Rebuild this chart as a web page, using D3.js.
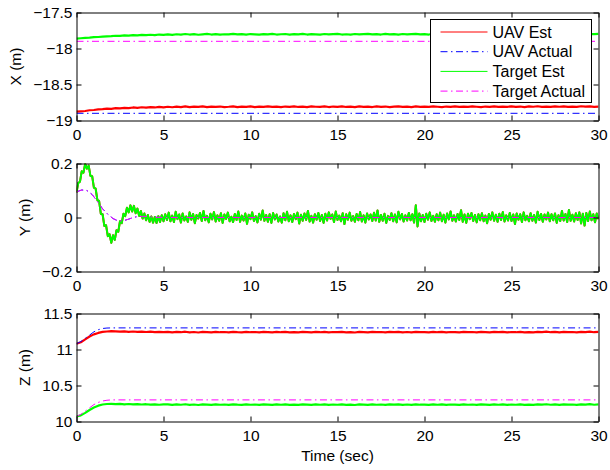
<!DOCTYPE html>
<html>
<head>
<meta charset="utf-8">
<script src="https://cdn.jsdelivr.net/npm/d3@7"></script>
<style>
  body { margin: 0; background: #fff; }
  svg text { font-family: "Liberation Sans", Arial, sans-serif; font-size: 15.5px; fill: #000; }
</style>
</head>
<body>
<div id="chart"></div>
<script>
"use strict";

// sample steps (sec)
var dtCoarse = 0.25,
    dtFine = 0.1;

var timeTicks = [0, 5, 10, 15, 20, 25, 30];
var seriesNames = ["UAV Est", "UAV Actual", "Target Est", "Target Actual"];

// ---- X (m), 0.25 s samples
var xUavEst = [
  -18.878, -18.872, -18.868, -18.858, -18.854, -18.845, -18.842, -18.836, -18.838, -18.829,
  -18.831, -18.824, -18.827, -18.819, -18.824, -18.816, -18.821, -18.814, -18.819, -18.812,
  -18.818,
  -18.809, -18.816, -18.807, -18.813, -18.805, -18.814, -18.808, -18.811, -18.804, -18.815,
  -18.807, -18.812, -18.806, -18.813, -18.809, -18.803, -18.814, -18.808, -18.81, -18.805,
  -18.813, -18.807, -18.811, -18.804, -18.812, -18.808, -18.815, -18.806, -18.81, -18.803,
  -18.812, -18.807, -18.814, -18.805, -18.809, -18.811, -18.804, -18.813, -18.806, -18.81,
  -18.803, -18.812, -18.808, -18.814, -18.805, -18.81, -18.807, -18.813, -18.804, -18.811,
  -18.806, -18.814, -18.808, -18.803, -18.811, -18.807, -18.813, -18.805, -18.81, -18.806,
  -18.812, -18.804, -18.809, -18.813, -18.806, -18.811, -18.803, -18.81, -18.807, -18.812,
  -18.805, -18.809, -18.814, -18.806, -18.81, -18.804, -18.812, -18.807, -18.81, -18.803,
  -18.811, -18.806, -18.813, -18.805, -18.809, -18.802, -18.81, -18.806, -18.812, -18.804,
  -18.809, -18.803, -18.811, -18.806, -18.81, -18.802, -18.808, -18.805, -18.81, -18.806
];
var xTgtEst = [
  -17.862, -17.858, -17.853, -17.849, -17.842, -17.84, -17.834, -17.831, -17.828, -17.823,
  -17.825, -17.818, -17.821, -17.815, -17.818, -17.812, -17.815, -17.809, -17.813, -17.806,
  -17.811,
  -17.804, -17.81, -17.802, -17.807, -17.799, -17.806, -17.801, -17.809, -17.803, -17.798,
  -17.806, -17.8, -17.808, -17.802, -17.805, -17.797, -17.804, -17.801, -17.807, -17.799,
  -17.803, -17.808, -17.8, -17.805, -17.798, -17.806, -17.802, -17.799, -17.807, -17.801,
  -17.804, -17.797, -17.806, -17.8, -17.803, -17.808, -17.799, -17.805, -17.801, -17.798,
  -17.806, -17.802, -17.807, -17.799, -17.804, -17.8, -17.797, -17.805, -17.801, -17.806,
  -17.798, -17.803, -17.8, -17.807, -17.799, -17.804, -17.801, -17.797, -17.805, -17.8,
  -17.806, -17.798, -17.803, -17.799, -17.805, -17.801, -17.807, -17.798, -17.802, -17.804,
  -17.799, -17.806, -17.8, -17.803, -17.797, -17.805, -17.801, -17.806, -17.798, -17.802,
  -17.804, -17.799, -17.806, -17.8, -17.797, -17.803, -17.801, -17.805, -17.798, -17.804,
  -17.8, -17.806, -17.799, -17.803, -17.797, -17.802, -17.805, -17.799, -17.801, -17.798
];
var xActTime = [0, 30];
var xUavAct = [-18.9, -18.9];
var xTgtAct = [-17.9, -17.9];

// ---- Y (m), 0.1 s samples (UAV and target estimates coincide)
var yEst = [
  0.092, 0.128, 0.133, 0.171, 0.166, 0.199, 0.181, 0.192, 0.154, 0.153,
  0.111, 0.107, 0.064, 0.061, 0.013, 0.012, -0.031, -0.029, -0.069, -0.062,
  -0.094, -0.066, -0.083, -0.047, -0.053, -0.014, -0.021, 0.014, 0.005, 0.036,
  0.019, 0.045, 0.022, 0.043, 0.016, 0.033, 0.006, 0.024, -0.004, 0.015,
  -0.01, 0.009, -0.016, 0.004, -0.019, 0.002, -0.02, 0.005, -0.017, 0.008,
  -0.014,
  0.012, -0.009, 0.018, -0.014, 0.007, -0.017, 0.021, -0.006, 0.011, -0.019,
  0.015, -0.011, 0.004, -0.016, 0.019, -0.008, 0.013, -0.021, 0.009, -0.004,
  0.017, -0.013, 0.024, -0.01, 0.006, -0.018, 0.014, -0.007, 0.02, -0.015,
  0.008, -0.012, 0.016, -0.02, 0.011, -0.005, 0.018, -0.014, 0.003, -0.017,
  0.013, -0.009, 0.022, -0.016, 0.007, -0.011, 0.015, -0.023, 0.01, -0.006,
  0.019, -0.013, 0.005, -0.018, 0.014, -0.008, 0.026, -0.012, 0.009, -0.016,
  0.012, -0.02, 0.017, -0.007, 0.011, -0.015, 0.004, -0.019, 0.016, -0.01,
  0.021, -0.014, 0.008, -0.017, 0.013, -0.006, 0.018, -0.022, 0.01, -0.012,
  0.015, -0.009, 0.024, -0.015, 0.006, -0.019, 0.012, -0.008, 0.017, -0.013,
  0.009, -0.02, 0.014, -0.011, 0.019, -0.005, 0.011, -0.017, 0.022, -0.009,
  0.007, -0.014, 0.016, -0.024, 0.012, -0.008, 0.018, -0.012, 0.005, -0.016,
  0.013, -0.01, 0.02, -0.015, 0.008, -0.019, 0.015, -0.007, 0.011, -0.013,
  0.018, -0.011, 0.026, -0.016, 0.009, -0.012, 0.014, -0.02, 0.006, -0.009,
  0.016, -0.014, 0.011, -0.018, 0.021, -0.007, 0.013, -0.015, 0.008, -0.011,
  0.017, -0.01, 0.012, -0.019, 0.045, -0.033, 0.015, -0.014, 0.009, -0.017,
  0.014, -0.008, 0.019, -0.013, 0.006, -0.016, 0.012, -0.01, 0.018, -0.014,
  0.01, -0.019, 0.015, -0.007, 0.022, -0.012, 0.008, -0.015, 0.013, -0.009,
  0.027, -0.016, 0.011, -0.02, 0.014, -0.006, 0.017, -0.013, 0.009, -0.018,
  0.012, -0.01, 0.016, -0.014, 0.007, -0.021, 0.013, -0.008, 0.019, -0.012,
  0.01, -0.016, 0.014, -0.009, 0.02, -0.015, 0.008, -0.011, 0.017, -0.013,
  0.011, -0.024, 0.015, -0.008, 0.012, -0.017, 0.019, -0.01, 0.006, -0.014,
  0.016, -0.012, 0.009, -0.019, 0.021, -0.009, 0.013, -0.016, 0.011, -0.007,
  0.018, -0.014, 0.012, -0.01, 0.015, -0.02, 0.008, -0.013, 0.024, -0.011,
  0.013, -0.017, 0.028, -0.012, 0.01, -0.015, 0.016, -0.009, 0.019, -0.022,
  0.014, -0.03, 0.017, -0.013, 0.022, -0.01, 0.012, -0.018, 0.015, -0.006
];
var yActTime = [0, 0.3, 0.6, 0.9, 1.2, 1.5, 1.8, 2.1, 2.4, 2.7, 3.0, 3.3, 3.6, 4.0, 4.5, 5, 30];
var yAct = [0.095, 0.102, 0.1, 0.085, 0.06, 0.032, 0.012, -0.004, -0.013, -0.012, -0.006, 0.001, 0.004, 0.004, 0.001, 0, 0];

// ---- Z (m), 0.25 s samples
var zUavEst = [
  11.08, 11.1, 11.14, 11.18, 11.21, 11.23, 11.245, 11.25, 11.255, 11.252,
  11.249, 11.251, 11.246, 11.25, 11.244, 11.248, 11.243, 11.247, 11.241, 11.246,
  11.242,
  11.245, 11.238, 11.244, 11.24, 11.247, 11.239, 11.243, 11.236, 11.245, 11.241,
  11.238, 11.246, 11.24, 11.243, 11.237, 11.245, 11.241, 11.239, 11.246, 11.24,
  11.243, 11.237, 11.244, 11.241, 11.238, 11.246, 11.24, 11.244, 11.238, 11.242,
  11.239, 11.245, 11.241, 11.237, 11.244, 11.24, 11.246, 11.238, 11.243, 11.24,
  11.245, 11.239, 11.242, 11.236, 11.244, 11.241, 11.238, 11.245, 11.24, 11.243,
  11.237, 11.244, 11.241, 11.246, 11.239, 11.243, 11.238, 11.245, 11.24, 11.242,
  11.239, 11.246, 11.24, 11.244, 11.237, 11.243, 11.241, 11.238, 11.245, 11.24,
  11.243, 11.239, 11.246, 11.241, 11.237, 11.244, 11.24, 11.245, 11.238, 11.243,
  11.24, 11.246, 11.239, 11.242, 11.238, 11.245, 11.241, 11.247, 11.24, 11.244,
  11.239, 11.246, 11.241, 11.243, 11.238, 11.245, 11.242, 11.248, 11.24, 11.244
];
var zTgtEst = [
  10.07, 10.085, 10.12, 10.16, 10.195, 10.22, 10.236, 10.243, 10.246, 10.242,
  10.245, 10.239, 10.243, 10.237, 10.242, 10.236, 10.24, 10.234, 10.239, 10.233,
  10.238,
  10.238, 10.231, 10.237, 10.233, 10.24, 10.232, 10.236, 10.229, 10.238, 10.234,
  10.231, 10.239, 10.233, 10.236, 10.23, 10.238, 10.234, 10.232, 10.239, 10.233,
  10.236, 10.23, 10.237, 10.234, 10.231, 10.239, 10.233, 10.237, 10.231, 10.235,
  10.232, 10.238, 10.234, 10.23, 10.237, 10.233, 10.239, 10.231, 10.236, 10.233,
  10.238, 10.232, 10.235, 10.229, 10.237, 10.234, 10.231, 10.238, 10.233, 10.236,
  10.23, 10.237, 10.234, 10.239, 10.232, 10.236, 10.231, 10.238, 10.233, 10.235,
  10.232, 10.239, 10.233, 10.237, 10.23, 10.236, 10.234, 10.231, 10.238, 10.233,
  10.236, 10.232, 10.239, 10.234, 10.23, 10.237, 10.233, 10.238, 10.231, 10.236,
  10.233, 10.239, 10.232, 10.235, 10.231, 10.238, 10.234, 10.24, 10.233, 10.237,
  10.232, 10.239, 10.234, 10.236, 10.231, 10.238, 10.235, 10.241, 10.233, 10.237
];
var zActTime = [0, 0.25, 0.5, 0.75, 1, 1.25, 1.5, 1.75, 2, 30];
var zUavAct = [11.08, 11.11, 11.155, 11.2, 11.245, 11.275, 11.292, 11.298, 11.3, 11.3];
var zTgtAct = [10.07, 10.1, 10.145, 10.19, 10.235, 10.265, 10.285, 10.295, 10.3, 10.3];

var xTicks = [-19, -18.5, -18, -17.5],
    yTicks = [-0.2, 0, 0.2],
    zTicks = [10, 10.5, 11, 11.5];

// ---- layout
var w = 610, h = 470,
    left = 76.5, right = 598.5;
var colors = ["#ff0000", "#0000ff", "#00ff00", "#ff00ff"],
    dashes = [null, "7,3.5,1.5,3.5", null, "7,3.5,1.5,3.5"];

var svg = d3.select("#chart").append("svg")
  .attr("width", w)
  .attr("height", h);

var x = d3.scaleLinear().domain([0, 30]).range([left, right]);
var fmt = function (d) { return d3.format("")(d).replace("-", "\u2212"); };

function timesFor(vals, dt) {
  return vals.map(function (d, i) { return i * dt; });
}

function panel(id, top, bottom, domain, ticks, label, labelX, series) {
  var y = d3.scaleLinear().domain(domain).range([bottom, top]);
  var g = svg.append("g");

  g.append("clipPath").attr("id", "clip" + id)
    .append("rect")
      .attr("x", left).attr("y", top)
      .attr("width", right - left).attr("height", bottom - top);

  var line = d3.line()
    .x(function (d) { return x(d[0]); })
    .y(function (d) { return y(d[1]); });

  var lines = g.append("g").attr("clip-path", "url(#clip" + id + ")");
  series.forEach(function (s) {
    var pts = s.v.map(function (v, i) { return [s.t[i], v]; });
    lines.append("path")
      .attr("d", line(pts))
      .attr("fill", "none")
      .attr("stroke", colors[s.k])
      .attr("stroke-width", s.sw || 1)
      .attr("stroke-linejoin", "round")
      .attr("stroke-dasharray", dashes[s.k]);
  });

  // axes, ticks pointing inward on all four sides
  g.append("g").attr("transform", "translate(" + left + ",0)")
    .call(d3.axisLeft(y).tickValues(ticks).tickFormat(fmt).tickSizeInner(-5).tickSizeOuter(0).tickPadding(4));
  g.append("g").attr("transform", "translate(" + right + ",0)")
    .call(d3.axisRight(y).tickValues(ticks).tickFormat("").tickSizeInner(-5).tickSizeOuter(0));
  g.append("g").attr("transform", "translate(0," + bottom + ")")
    .call(d3.axisBottom(x).tickValues(timeTicks).tickFormat(d3.format("d")).tickSizeInner(-5).tickSizeOuter(0).tickPadding(8));
  g.append("g").attr("transform", "translate(0," + top + ")")
    .call(d3.axisTop(x).tickValues(timeTicks).tickFormat("").tickSizeInner(-5).tickSizeOuter(0));

  g.selectAll(".domain").attr("stroke", "#000");
  g.selectAll(".tick line").attr("stroke", "#000");
  g.selectAll(".tick text").style("font-size", "15.5px").style("font-family", "'Liberation Sans', Arial, sans-serif");

  g.append("text")
    .attr("transform", "translate(" + labelX + "," + ((top + bottom) / 2) + ") rotate(-90)")
    .attr("text-anchor", "middle")
    .text(label);

  return g;
}

var tC = timesFor(xUavEst, dtCoarse),
    tF = timesFor(yEst, dtFine);

var p1 = panel(1, 12.5, 120.5, [-19, -17.5], xTicks, "X (m)", 21, [
  { k: 0, t: tC, v: xUavEst, sw: 2.2 },
  { k: 1, t: xActTime, v: xUavAct },
  { k: 2, t: tC, v: xTgtEst, sw: 2.2 },
  { k: 3, t: xActTime, v: xTgtAct }
]);

panel(2, 163.5, 271.5, [-0.2, 0.2], yTicks, "Y (m)", 29.5, [
  { k: 0, t: tF, v: yEst, sw: 2 },
  { k: 1, t: yActTime, v: yAct },
  { k: 2, t: tF, v: yEst, sw: 2 },
  { k: 3, t: yActTime, v: yAct }
]);

panel(3, 313.5, 421.5, [10, 11.5], zTicks, "Z (m)", 29.5, [
  { k: 0, t: tC, v: zUavEst, sw: 2.2 },
  { k: 1, t: zActTime, v: zUavAct },
  { k: 2, t: tC, v: zTgtEst, sw: 2.2 },
  { k: 3, t: zActTime, v: zTgtAct }
]);

svg.append("text")
  .attr("x", (left + right) / 2)
  .attr("y", 461)
  .attr("text-anchor", "middle")
  .text("Time (sec)");

// legend in first panel
var lg = p1.append("g").attr("transform", "translate(430.5,19.5)");
lg.append("rect")
  .attr("width", 161)
  .attr("height", 83)
  .attr("fill", "#fff")
  .attr("stroke", "#000");
seriesNames.forEach(function (name, i) {
  var yy = 12.5 + i * 19.7;
  lg.append("line")
    .attr("x1", 10).attr("x2", 57)
    .attr("y1", yy).attr("y2", yy)
    .attr("stroke", colors[i])
    .attr("stroke-dasharray", dashes[i]);
  lg.append("text")
    .attr("x", 62)
    .attr("y", yy)
    .attr("dy", "0.35em")
    .style("font-size", "16px")
    .text(name);
});
</script>
</body>
</html>
